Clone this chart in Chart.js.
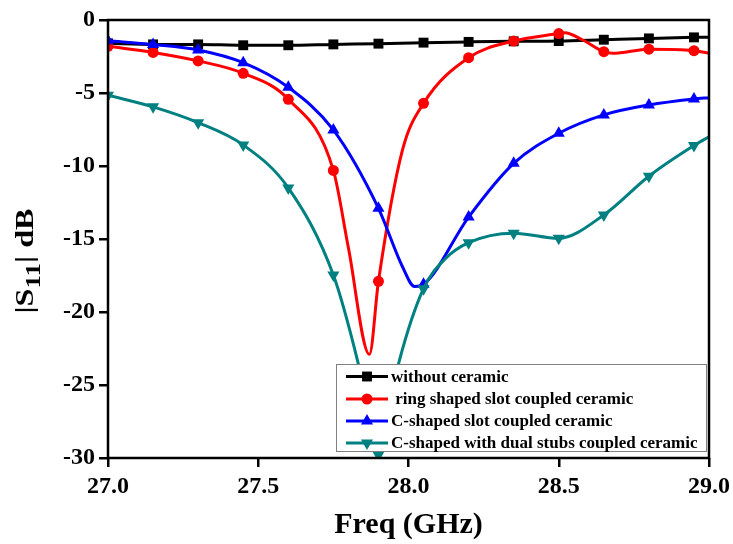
<!DOCTYPE html>
<html>
<head>
<meta charset="utf-8">
<script src="https://cdn.jsdelivr.net/npm/chart.js"></script>
<style>
  body { margin: 0; background: #fff; }
  #wrap { width: 733px; height: 544px; }
</style>
</head>
<body>
<div id="wrap"><canvas id="s11Chart" width="733" height="544"></canvas></div>
<script>
// frequencies (GHz) and |S11| (dB)
const freqNoCeramic = [27.0, 27.15, 27.3, 27.45, 27.6, 27.75, 27.9, 28.05, 28.2, 28.35, 28.5, 28.65, 28.8, 28.95, 29.0];
const s11NoCeramic = [-1.6, -1.67, -1.67, -1.73, -1.73, -1.67, -1.62, -1.55, -1.5, -1.46, -1.44, -1.35, -1.26, -1.19, -1.18];

const freqRing = [27.0, 27.15, 27.3, 27.45, 27.6, 27.75, 27.8, 27.87, 27.9, 27.98, 28.05, 28.2, 28.35, 28.5, 28.52, 28.58, 28.65, 28.68, 28.8, 28.95, 29.0];
const s11Ring = [-1.8, -2.22, -2.8, -3.65, -5.43, -10.3, -15.6, -22.9, -17.9, -8.9, -5.71, -2.58, -1.44, -0.93, -0.87, -1.37, -2.17, -2.28, -2.0, -2.1, -2.28];

const freqCSlot = [27.0, 27.15, 27.3, 27.45, 27.6, 27.75, 27.9, 27.98, 28.02, 28.05, 28.2, 28.35, 28.5, 28.65, 28.8, 28.95, 29.0];
const s11CSlot = [-1.42, -1.68, -2.05, -2.92, -4.61, -7.53, -12.9, -16.9, -18.25, -18.1, -13.5, -9.82, -7.76, -6.5, -5.82, -5.41, -5.32];

const freqStubs = [27.0, 27.15, 27.3, 27.45, 27.6, 27.75, 27.83, 27.9, 27.97, 28.05, 28.12, 28.2, 28.35, 28.5, 28.65, 28.8, 28.95, 29.0];
const s11Stubs = [-5.15, -5.95, -7.03, -8.56, -11.5, -17.47, -23.3, -29.8, -23.3, -18.4, -16.4, -15.25, -14.6, -14.95, -13.35, -10.7, -8.6, -8.0];

const seriesNames = ['without ceramic', ' ring shaped slot coupled ceramic', 'C-shaped slot coupled ceramic', 'C-shaped with dual stubs coupled ceramic'];
const xTicks = [27.0, 27.5, 28.0, 28.5, 29.0];
const yTicks = [0, -5, -10, -15, -20, -25, -30];

const SERIF = '"Liberation Serif", "Times New Roman", serif';
Chart.defaults.font.family = SERIF;
Chart.defaults.font.weight = 'bold';
Chart.defaults.color = '#000';

// markers sit every 0.15 GHz, extra read points get none
function markerRadii(freqs, r) {
    return freqs.map(f => {
        const k = (f - 27) / 0.15;
        return Math.abs(k - Math.round(k)) < 1e-6 ? r : 0;
    });
}

function toPoints(freqs, vals) {
    return freqs.map((f, i) => ({ x: f, y: vals[i] }));
}

const styles = [
    { color: '#000000', shape: 'rect', radius: 7, rotation: 0 },
    { color: '#ff0000', shape: 'circle', radius: 5.5, rotation: 0 },
    { color: '#0000ff', shape: 'triangle', radius: 7, rotation: 0 },
    { color: '#008080', shape: 'triangle', radius: 7, rotation: 180 }
];
const freqSets = [freqNoCeramic, freqRing, freqCSlot, freqStubs];
const valueSets = [s11NoCeramic, s11Ring, s11CSlot, s11Stubs];

const datasets = seriesNames.map((name, i) => ({
    label: name,
    data: toPoints(freqSets[i], valueSets[i]),
    borderColor: styles[i].color,
    backgroundColor: styles[i].color,
    borderWidth: 3,
    pointStyle: styles[i].shape,
    pointRotation: styles[i].rotation,
    pointRadius: markerRadii(freqSets[i], styles[i].radius),
    pointBorderWidth: 0,
    cubicInterpolationMode: 'monotone',
    order: 4 - i
}));

function drawMarker(ctx, shape, x, y, r, rotation, color) {
    ctx.save();
    ctx.fillStyle = color;
    ctx.translate(x, y);
    ctx.rotate(rotation * Math.PI / 180);
    ctx.beginPath();
    if (shape === 'rect') {
        const s = Math.SQRT1_2 * r;
        ctx.rect(-s, -s, 2 * s, 2 * s);
    } else if (shape === 'circle') {
        ctx.arc(0, 0, r, 0, Math.PI * 2);
    } else {
        ctx.moveTo(0, -r);
        ctx.lineTo(r * Math.sin(Math.PI / 3), r / 2);
        ctx.lineTo(-r * Math.sin(Math.PI / 3), r / 2);
        ctx.closePath();
    }
    ctx.fill();
    ctx.restore();
}

const framePlugin = {
    id: 'frameAndLegend',
    afterDatasetsDraw(chart) {
        const ctx = chart.ctx;
        const area = chart.chartArea;

        // legend box inside the plot, lower right
        const box = { left: 336, top: 364, right: 707, bottom: 452 };
        ctx.save();
        ctx.fillStyle = '#fff';
        ctx.fillRect(box.left, box.top, box.right - box.left, box.bottom - box.top);
        ctx.strokeStyle = '#808080';
        ctx.lineWidth = 1;
        ctx.strokeRect(box.left + 0.5, box.top + 0.5, box.right - box.left - 1, box.bottom - box.top - 1);
        const rows = [376.5, 399, 421, 443];
        ctx.font = 'bold 17px ' + SERIF;
        ctx.textBaseline = 'middle';
        ctx.textAlign = 'left';
        seriesNames.forEach((name, i) => {
            const y = rows[i];
            ctx.strokeStyle = styles[i].color;
            ctx.lineWidth = 3;
            ctx.beginPath();
            ctx.moveTo(346, y);
            ctx.lineTo(388, y);
            ctx.stroke();
            drawMarker(ctx, styles[i].shape, 367, y, styles[i].radius, styles[i].rotation, styles[i].color);
            ctx.fillStyle = '#000';
            ctx.fillText(name, 391, y + 1);
        });
        ctx.restore();

        // plot frame
        ctx.save();
        ctx.strokeStyle = '#000';
        ctx.lineWidth = 2.5;
        ctx.strokeRect(area.left, area.top, area.right - area.left, area.bottom - area.top);
        ctx.restore();

        // y title with subscript: |S11| dB, stretched to the reference length
        ctx.save();
        ctx.translate(33, 261);
        ctx.rotate(-Math.PI / 2);
        ctx.fillStyle = '#000';
        ctx.textBaseline = 'alphabetic';
        ctx.textAlign = 'left';
        const big = 'bold 25px ' + SERIF;
        const small = 'bold 21px ' + SERIF;
        ctx.font = big;
        const w1 = ctx.measureText('|S').width;
        const w3 = ctx.measureText('| dB').width;
        ctx.font = small;
        const w2 = ctx.measureText('11').width;
        const total = w1 + w2 + w3;
        ctx.scale(105 / total, 1);
        let x = -total / 2;
        ctx.font = big;
        ctx.fillText('|S', x, 0);
        x += w1;
        ctx.font = small;
        ctx.fillText('11', x, 7);
        x += w2;
        ctx.font = big;
        ctx.fillText('| dB', x, 0);
        ctx.restore();
    }
};

new Chart(document.getElementById('s11Chart'), {
    type: 'line',
    data: { datasets: datasets },
    options: {
        responsive: false,
        animation: false,
        devicePixelRatio: 1,
        layout: { padding: { top: 20, right: 24, bottom: 1, left: 0 } },
        plugins: { legend: { display: false }, tooltip: { enabled: false } },
        scales: {
            x: {
                type: 'linear',
                min: 27,
                max: 29,
                afterBuildTicks: s => { s.ticks = xTicks.map(v => ({ value: v })); },
                afterFit: s => { s.height = 85; s.paddingLeft = 0; s.paddingRight = 0; },
                border: { display: false },
                grid: { drawOnChartArea: false, drawTicks: true, tickLength: 9, color: '#000', lineWidth: 2.5 },
                ticks: {
                    font: { size: 24, weight: 'bold' },
                    color: '#000',
                    padding: 5,
                    maxRotation: 0,
                    callback: v => Number(v).toFixed(1)
                },
                title: {
                    display: true,
                    text: 'Freq (GHz)',
                    font: { size: 30, weight: 'bold' },
                    color: '#000',
                    padding: { top: 0, bottom: 0 }
                }
            },
            y: {
                min: -30,
                max: 0,
                afterBuildTicks: s => { s.ticks = yTicks.map(v => ({ value: v })); },
                afterFit: s => { s.width = 108; },
                border: { display: false },
                grid: { drawOnChartArea: false, drawTicks: true, tickLength: 9, color: '#000', lineWidth: 2.5 },
                ticks: {
                    font: { size: 24, weight: 'bold' },
                    color: '#000',
                    padding: 4
                }
            }
        }
    },
    plugins: [framePlugin]
});
</script>
</body>
</html>
